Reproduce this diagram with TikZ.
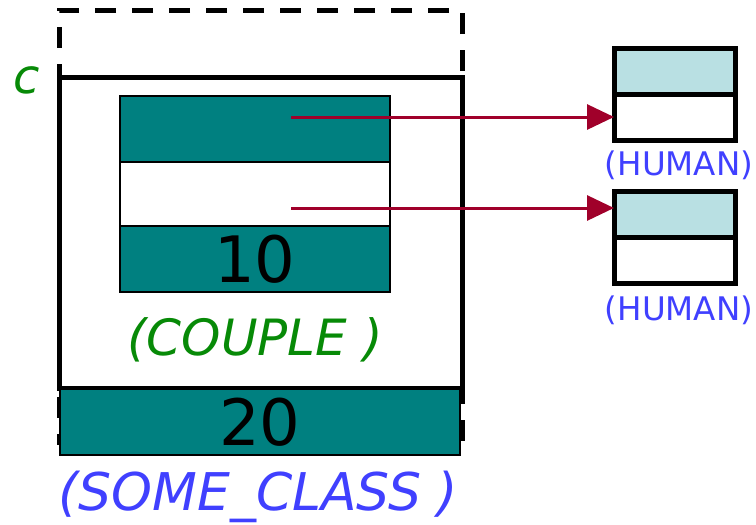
\documentclass[tikz,border=0pt]{standalone}
\usepackage{fontspec}
\setmainfont{DejaVu Sans}
\usetikzlibrary{arrows.meta}
\definecolor{cellteal}{HTML}{008080}
\definecolor{cellcyan}{HTML}{B9E0E3}
\definecolor{refred}{HTML}{A0002A}
\definecolor{typegreen}{HTML}{078A07}
\definecolor{typeblue}{HTML}{4040FF}
\tikzset{
  cell/.style={inner sep=0pt, outer sep=0pt, draw=black, line width=1.5pt},
  tealcell/.style={cell, fill=cellteal},
  whitecell/.style={cell, fill=white},
  humancell/.style={cell, line width=5pt, minimum width=121pt},
  frame/.style={inner sep=0pt, outer sep=0pt, draw=black, line width=5pt},
  ref/.style={draw=refred, line width=3pt, -{Triangle[length=27pt,width=25pt]}},
  typelabel/.style={inner sep=0pt, font=\fontsize{50}{50}\selectfont\itshape},
  humanlabel/.style={inner sep=0pt, text=typeblue, font=\fontsize{32.5}{32.5}\selectfont},
  bignum/.style={inner sep=0pt, font=\fontsize{64}{64}\selectfont}
}
\begin{document}
\begin{tikzpicture}[x=1pt,y=-1pt]
\useasboundingbox (0,0) rectangle (756,525);

% expanded region of the entity (dashed)
\node[frame, dash pattern=on 21pt off 16pt, minimum width=403pt, minimum height=435pt] (outer) at (260.5,227.5) {};
% the entity c
\node[frame, fill=white, minimum width=403pt, minimum height=311pt] (cbox) at (260.5,232.5) {};
\node[text=typegreen, inner sep=0pt, font=\fontsize{48}{48}\selectfont\itshape] (cname) at (27,80) {c};

% subobject of type COUPLE
\node[tealcell, minimum width=270pt, minimum height=66pt] (f1) at (255,129) {};
\node[whitecell, minimum width=270pt, minimum height=64pt] (f2) at (255,194) {};
\node[tealcell, minimum width=270pt, minimum height=66pt] (f3) at (255,259) {};
\node[bignum] (v10) at (f3.center) {10};
\node[typelabel, text=typegreen] (couple) at (255,340) {(COUPLE )};

% integer field
\node[tealcell, line width=2pt, minimum width=400pt, minimum height=66pt] (g) at (260,422) {};
\node[bignum] (v20) at (g.center) {20};
\node[typelabel, font=\fontsize{52}{52}\selectfont\itshape, text=typeblue] (someclass) at (258,497) {(SOME\_CLASS )};

% HUMAN objects
\node[humancell, fill=cellcyan, minimum height=46pt] (h1top) at (674.5,71) {};
\node[humancell, fill=white, minimum height=46pt] (h1low) at (674.5,117) {};
\node[humanlabel] (h1lab) at (679,165) {(HUMAN)};

\node[humancell, fill=cellcyan, minimum height=46pt] (h2top) at (674.5,214) {};
\node[humancell, fill=white, minimum height=46pt] (h2low) at (674.5,260) {};
\node[humanlabel] (h2lab) at (679,310) {(HUMAN)};

% references
\coordinate (s1) at (291,117);
\coordinate (s2) at (291,208);
\draw[ref] (s1) -- (s1 -| h1low.west);
\draw[ref] (s2) -- (s2 -| h2top.west);
\end{tikzpicture}
\end{document}
